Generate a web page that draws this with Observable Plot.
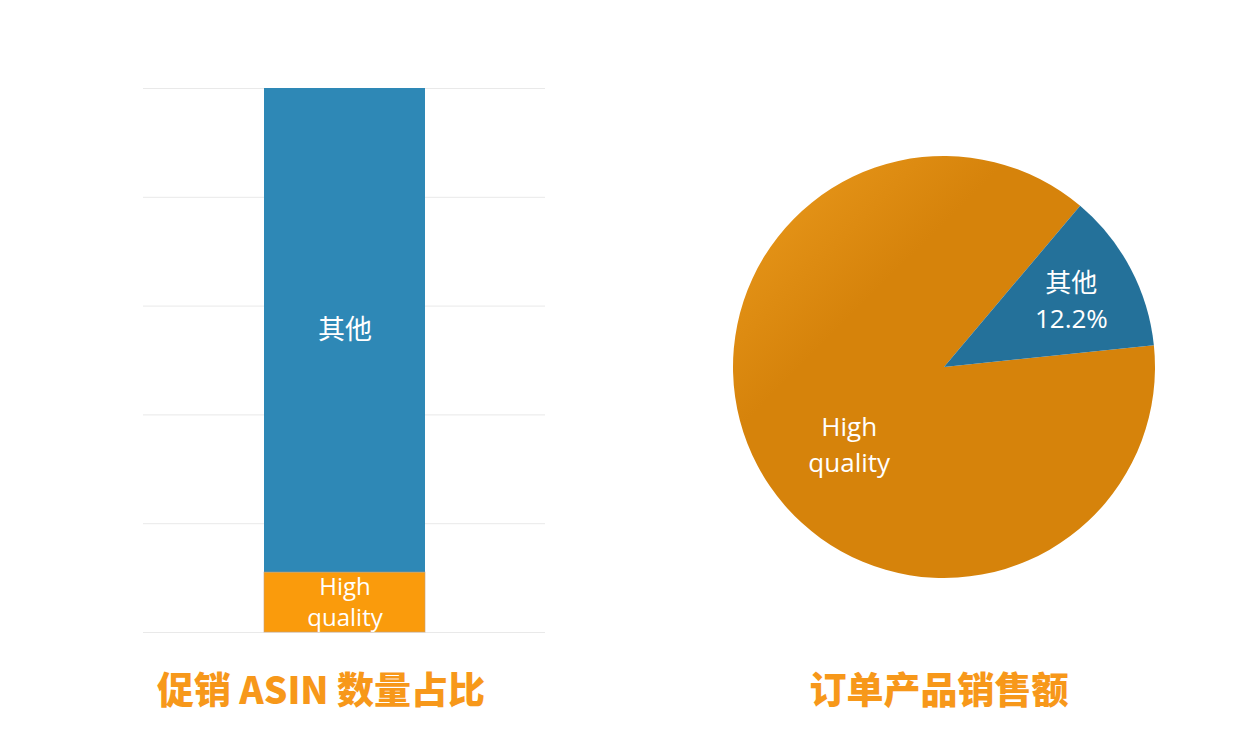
<!DOCTYPE html>
<html><head><meta charset="utf-8">
<script src="https://cdn.jsdelivr.net/npm/d3@7"></script>
<script src="https://cdn.jsdelivr.net/npm/@observablehq/plot@0.6"></script>
<style>
body{margin:0;background:#fff;}
#wrap{position:relative;width:1260px;height:734px;overflow:hidden;}
.panel{position:absolute;top:0;}
.title{position:absolute;top:669px;line-height:38px;font-family:"Noto Sans CJK SC",sans-serif;font-weight:900;font-size:37px;color:#f7981a;white-space:nowrap;transform:translateX(-50%);}
</style></head>
<body><div id="wrap"></div>
<script>
// ---- data ----
const barCategories = ["High quality", "其他"];
const barShares = [11, 89];
const barColors = ["#fa9b0c", "#2e88b6"];
const pieCategories = ["High quality", "其他"];
const pieShares = [87.8, 12.2];
const pieColors = ["#d6830b", "#24719a"];
const pieValueLabels = ["", "12.2%"];
const yTicks = [0, 20, 40, 60, 80, 100];
const titles = ["促销 ASIN 数量占比", "订单产品销售额"];

const labelFont = '"Open Sans","Noto Sans CJK SC",sans-serif';
const wrap = document.getElementById("wrap");

// ---- left: stacked bar ----
const barData = barCategories.map((c, i) => ({group: "ASIN", category: c, value: barShares[i]}));
const isHQ = d => d.category === "High quality";
const bar = Plot.plot({
  width: 630, height: 660,
  marginLeft: 143, marginRight: 85, marginTop: 88, marginBottom: 28,
  x: {type: "band", domain: ["ASIN"], padding: 0.428, axis: null},
  y: {domain: [0, 100], axis: null},
  color: {domain: barCategories, range: barColors},
  style: {fontFamily: labelFont, background: "transparent"},
  marks: [
    Plot.gridY(yTicks, {stroke: "#e9e9e9", strokeOpacity: 1, strokeWidth: 1}),
    Plot.barY(barData, Plot.stackY({x: "group", y: "value", z: "category", fill: "category", order: barCategories})),
    Plot.barY(barData.filter(isHQ), Plot.stackY({x: "group", y: "value", fill: "none", stroke: "#c9a27a", strokeWidth: 1, strokeOpacity: 0.6})),
    Plot.text(barData, Plot.stackY({
      x: "group", y: "value", z: "category", order: barCategories,
      text: d => isHQ(d) ? null : d.category, fill: "white", fontSize: 27
    })),
    Plot.text(barData, Plot.stackY({
      x: "group", y: "value", z: "category", order: barCategories,
      text: d => isHQ(d) ? "High\nquality" : null, fill: "white", fontSize: 24, lineHeight: 1.3, dy: -2
    }))
  ]
});
bar.classList.add("panel");
bar.style.left = "0px";
wrap.appendChild(bar);

// ---- right: pie ----
const R = 211;
const cx = 944 - 630, cy = 367;
const startDeg = 84.1;
const pie = d3.pie().sort(null).value(d => d.value).startAngle(startDeg * Math.PI / 180).endAngle((startDeg + 360) * Math.PI / 180);
const pieData = pie(pieCategories.map((c, i) => ({category: c, value: pieShares[i], pct: pieValueLabels[i]})));
// label placement (unit radius, angle shift in degrees) per slice
const labelPlace = {"High quality": {r: 0.58, shift: -11}, "其他": {r: 0.68, shift: 0}};
const pieLabels = pieData.map(a => {
  const p = labelPlace[a.data.category];
  const mid = (a.startAngle + a.endAngle) / 2 + p.shift * Math.PI / 180;
  return {
    ux: p.r * Math.sin(mid), uy: p.r * Math.cos(mid),
    text: a.data.category === "High quality" ? "High\nquality" : (a.data.category + "\n" + a.data.pct)
  };
});

function pieMark(index, scales, values, dimensions) {
  const sx = scales.x, sy = scales.y;
  const x0 = sx(0), y0 = sy(0);
  const rad = Math.abs(sx(1) - sx(0));
  const g = d3.create("svg:g");
  const defs = g.append("defs");
  const grad = defs.append("linearGradient").attr("id", "pieGrad")
    .attr("x1", "0%").attr("y1", "0%").attr("x2", "60%").attr("y2", "60%");
  grad.append("stop").attr("offset", "0%").attr("stop-color", "#ec9c1e");
  grad.append("stop").attr("offset", "55%").attr("stop-color", pieColors[0]);
  grad.append("stop").attr("offset", "100%").attr("stop-color", pieColors[0]);
  const arc = d3.arc().innerRadius(0).outerRadius(rad);
  g.selectAll("path").data(pieData).join("path")
    .attr("transform", `translate(${x0},${y0})`)
    .attr("d", arc)
    .attr("fill", (d, i) => i === 0 ? "url(#pieGrad)" : pieColors[i]);
  return g.node();
}

const pieChart = Plot.plot({
  width: 630, height: 660,
  margin: 0,
  x: {domain: [-1, 1], range: [cx - R, cx + R], axis: null},
  y: {domain: [-1, 1], range: [cy + R, cy - R], axis: null},
  style: {fontFamily: labelFont, background: "transparent"},
  marks: [
    pieMark,
    Plot.text(pieLabels, {x: "ux", y: "uy", text: "text", fill: "white", fontSize: 26, lineHeight: 1.4, dy: -2})
  ]
});
pieChart.classList.add("panel");
pieChart.style.left = "630px";
wrap.appendChild(pieChart);

// ---- titles ----
[[321, titles[0]], [939, titles[1]]].forEach(([x, t]) => {
  const d = document.createElement("div");
  d.className = "title";
  d.style.left = x + "px";
  d.textContent = t;
  wrap.appendChild(d);
});
</script>
</body></html>
